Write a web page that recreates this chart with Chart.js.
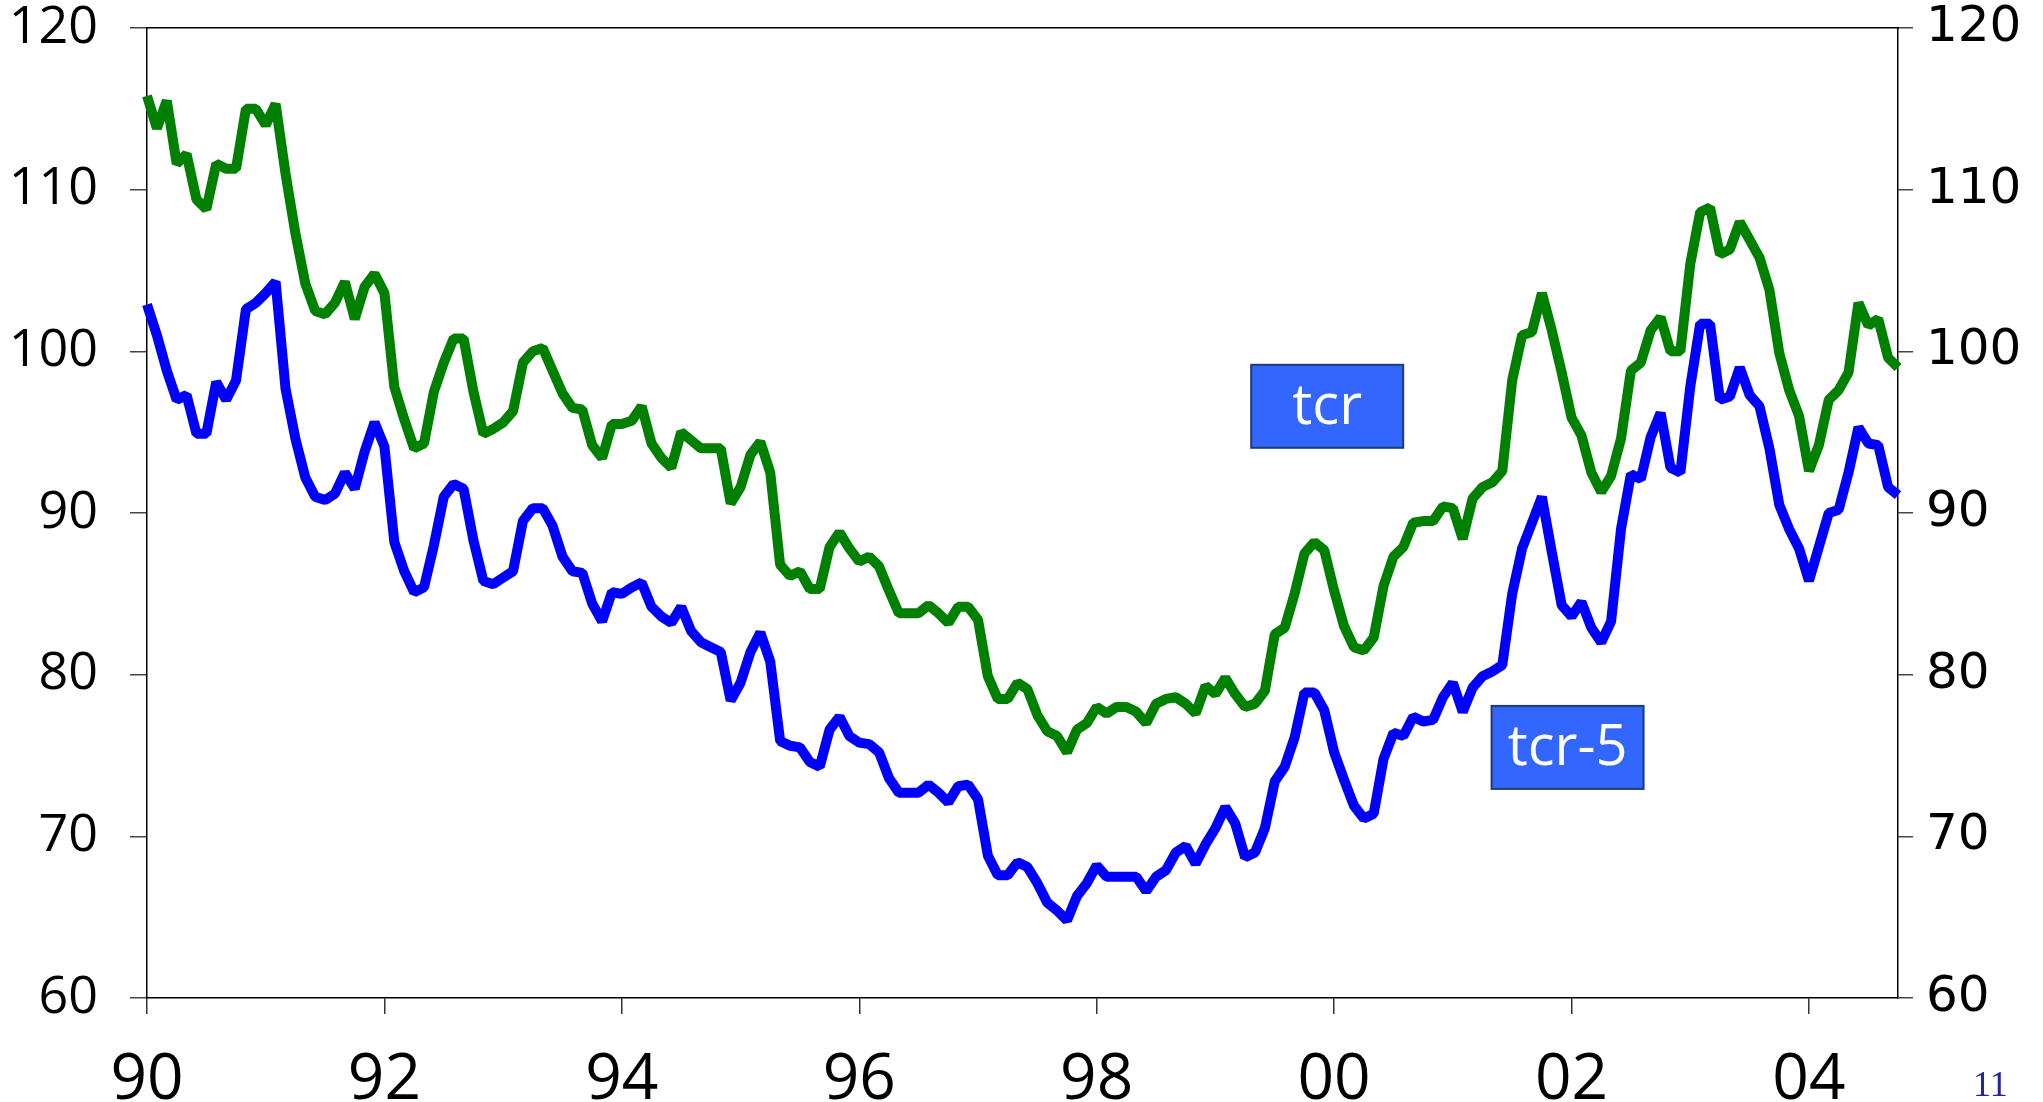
<!DOCTYPE html>
<html>
<head>
<meta charset="utf-8">
<script src="https://cdn.jsdelivr.net/npm/chart.js@4/dist/chart.umd.min.js"></script>
<style>
html, body { margin: 0; padding: 0; background: #fff; }
#wrap { position: relative; width: 2043px; height: 1102px; }
#page { position: absolute; left: 1973px; top: 1066px; font: 36px "Liberation Serif", serif; line-height: 1; color: #2424a0; }
</style>
</head>
<body>
<div id="wrap">
  <canvas id="chart" width="2043" height="1102"></canvas>
  <div id="page">11</div>
</div>
<script>
// monthly, Jan 1990 .. Oct 2004
var yearTicks = ["90", "92", "94", "96", "98", "00", "02", "04"];

var tcr = [
  115.8, 113.8, 115.5, 111.6, 112.2, 109.4, 108.8, 111.6, 111.3, 111.3, 115.0, 115.0,
  114.0, 115.3, 111.0, 107.3, 104.2, 102.5, 102.3, 103.0, 104.3, 102.0, 104.0, 104.8,
  103.6, 97.8, 95.8, 94.0, 94.3, 97.5, 99.3, 100.8, 100.8, 97.5, 94.9, 95.2,
  95.6, 96.3, 99.3, 100.0, 100.2, 98.8, 97.4, 96.5, 96.4, 94.2, 93.4, 95.5,
  95.5, 95.7, 96.6, 94.3, 93.4, 92.8, 95.0, 94.5, 94.0, 94.0, 94.0, 90.6,
  91.6, 93.6, 94.4, 92.5, 86.8, 86.1, 86.4, 85.3, 85.3, 87.9, 88.8, 87.8,
  87.0, 87.3, 86.7, 85.2, 83.8, 83.8, 83.8, 84.3, 83.8, 83.2, 84.2, 84.2,
  83.4, 79.9, 78.5, 78.5, 79.5, 79.1, 77.5, 76.5, 76.2, 75.2, 76.6, 77.0,
  78.0, 77.6, 78.0, 78.0, 77.7, 77.0, 78.2, 78.5, 78.6, 78.2, 77.6, 79.3,
  78.8, 79.8, 78.8, 78.0, 78.2, 79.0, 82.5, 82.9, 85.0, 87.5, 88.2, 87.7,
  85.2, 83.0, 81.7, 81.5, 82.3, 85.5, 87.3, 87.9, 89.4, 89.5, 89.5, 90.4,
  90.3, 88.4, 90.9, 91.6, 91.9, 92.6, 98.2, 101.0, 101.2, 103.6, 101.3, 98.7,
  95.9, 94.8, 92.5, 91.3, 92.3, 94.6, 98.8, 99.3, 101.3, 102.1, 100.0, 100.0,
  105.4, 108.6, 108.9, 106.0, 106.3, 108.0, 106.9, 105.8, 103.8, 99.9, 97.6, 96.0,
  92.6, 94.2, 97.0, 97.6, 98.7, 103.0, 101.6, 102.0, 99.6, 99.0
];

var tcr5 = [
  102.9, 101.0, 98.8, 97.0, 97.3, 94.9, 94.9, 98.1, 97.0, 98.2, 102.6, 103.0,
  103.6, 104.3, 97.7, 94.6, 92.2, 91.0, 90.8, 91.2, 92.5, 91.5, 93.8, 95.6,
  94.1, 88.2, 86.4, 85.1, 85.4, 88.0, 91.0, 91.8, 91.5, 88.3, 85.8, 85.6,
  86.0, 86.4, 89.5, 90.3, 90.3, 89.2, 87.3, 86.4, 86.3, 84.4, 83.3, 85.1,
  85.0, 85.4, 85.7, 84.2, 83.6, 83.2, 84.2, 82.7, 82.0, 81.7, 81.4, 78.4,
  79.5, 81.4, 82.6, 80.8, 75.9, 75.6, 75.5, 74.6, 74.3, 76.6, 77.4, 76.2,
  75.8, 75.7, 75.2, 73.6, 72.7, 72.7, 72.7, 73.2, 72.7, 72.1, 73.1, 73.2,
  72.3, 68.8, 67.6, 67.6, 68.4, 68.1, 67.1, 65.9, 65.4, 64.8, 66.3, 67.1,
  68.2, 67.5, 67.5, 67.5, 67.5, 66.6, 67.5, 67.9, 69.0, 69.4, 68.3, 69.5,
  70.5, 71.8, 70.8, 68.7, 69.0, 70.5, 73.4, 74.3, 76.1, 78.9, 78.9, 77.8,
  75.2, 73.5, 71.9, 71.1, 71.4, 74.8, 76.4, 76.2, 77.4, 77.1, 77.2, 78.6,
  79.5, 77.7, 79.2, 79.9, 80.2, 80.6, 85.0, 87.8, 89.4, 91.0, 87.6, 84.3,
  83.6, 84.5, 82.9, 82.0, 83.3, 89.0, 92.4, 92.1, 94.7, 96.2, 92.8, 92.5,
  97.8, 101.7, 101.7, 97.0, 97.2, 99.0, 97.3, 96.6, 94.0, 90.5, 89.0, 87.8,
  85.8, 87.9, 90.0, 90.2, 92.5, 95.3, 94.3, 94.2, 91.6, 91.1
];

var months = [];
for (var i = 0; i < tcr.length; i++) {
  var yr = 1990 + Math.floor(i / 12);
  var mo = (i % 12) + 1;
  months.push(yr + "-" + (mo < 10 ? "0" + mo : mo));
}

// text boxes, placed in data units (month index, value)
var notes = [
  { text: "tcr", month: 119.3, value: 96.6 },
  { text: "tcr-5", month: 143.6, value: 75.5 }
];

var notesPlugin = {
  id: "notes",
  afterDatasetsDraw: function (chart) {
    var c = chart.ctx, xs = chart.scales.x, ys = chart.scales.y;
    c.save();
    notes.forEach(function (n) {
      var cx = xs.getPixelForValue(n.month);
      var cy = ys.getPixelForValue(n.value);
      var w = 152, h = 83;
      c.fillStyle = "#3366ff";
      c.fillRect(cx - w / 2, cy - h / 2, w, h);
      c.lineWidth = 2;
      c.strokeStyle = "#1c3c78";
      c.strokeRect(cx - w / 2, cy - h / 2, w, h);
      c.fillStyle = "#ffffff";
      c.font = '56px "Open Sans", sans-serif';
      c.textAlign = "center";
      c.textBaseline = "middle";
      c.fillText(n.text, cx, cy + 2);
    });
    c.restore();
  }
};

var ctx = document.getElementById("chart").getContext("2d");

new Chart(ctx, {
  type: "line",
  data: {
    labels: months,
    datasets: [
      {
        label: "tcr",
        data: tcr,
        xAxisID: "x",
        yAxisID: "y",
        borderColor: "#008000",
        borderWidth: 10,
        borderJoinStyle: "bevel",
        borderCapStyle: "butt",
        pointRadius: 0,
        tension: 0,
        fill: false
      },
      {
        label: "tcr-5",
        data: tcr5,
        xAxisID: "x",
        yAxisID: "y",
        borderColor: "#0000ff",
        borderWidth: 10,
        borderJoinStyle: "bevel",
        borderCapStyle: "butt",
        pointRadius: 0,
        tension: 0,
        fill: false
      }
    ]
  },
  options: {
    responsive: false,
    animation: false,
    devicePixelRatio: 1,
    layout: { padding: { top: 28, left: 0, right: 0, bottom: 0 } },
    plugins: { legend: { display: false }, tooltip: { enabled: false } },
    scales: {
      x: {
        type: "category",
        position: "bottom",
        offset: false,
        grid: {
          drawOnChartArea: false,
          tickLength: 16,
          lineWidth: 1.5,
          color: function (c) { return c.index % 24 === 0 ? "#333" : "rgba(0,0,0,0)"; }
        },
        border: { color: "#000", width: 1.5 },
        ticks: {
          autoSkip: false,
          maxRotation: 0,
          minRotation: 0,
          padding: 28,
          color: "#000",
          font: { family: '"Liberation Sans Narrow", "Open Sans", sans-serif', size: 64 },
          callback: function (v, i) { return i % 24 === 0 ? yearTicks[i / 24] : ""; }
        },
        afterFit: function (s) { s.height = 104; s.paddingLeft = 0; s.paddingRight = 0; }
      },
      xTop: {
        type: "category",
        position: "top",
        grid: { display: false, drawTicks: false },
        border: { color: "#000", width: 1.5 },
        ticks: { display: false },
        afterFit: function (s) { s.height = 0; s.paddingLeft = 0; s.paddingRight = 0; }
      },
      y: {
        position: "left",
        min: 60,
        max: 120,
        grid: { drawOnChartArea: false, tickLength: 17, color: "#444", lineWidth: 1.5 },
        border: { color: "#000", width: 1.5 },
        ticks: {
          stepSize: 10,
          padding: 32,
          color: "#000",
          font: { family: '"Open Sans", sans-serif', size: 52 }
        },
        afterFit: function (s) { s.width = 147; s.paddingTop = 0; s.paddingBottom = 0; }
      },
      y2: {
        position: "right",
        min: 60,
        max: 120,
        grid: { drawOnChartArea: false, tickLength: 15, color: "#444", lineWidth: 1.5 },
        border: { color: "#000", width: 1.5 },
        ticks: {
          stepSize: 10,
          padding: 13,
          color: "#000",
          font: { family: '"DejaVu Sans", sans-serif', size: 50 }
        },
        afterFit: function (s) { s.width = 145; s.paddingTop = 0; s.paddingBottom = 0; }
      }
    }
  },
  plugins: [notesPlugin]
});
</script>
</body>
</html>
